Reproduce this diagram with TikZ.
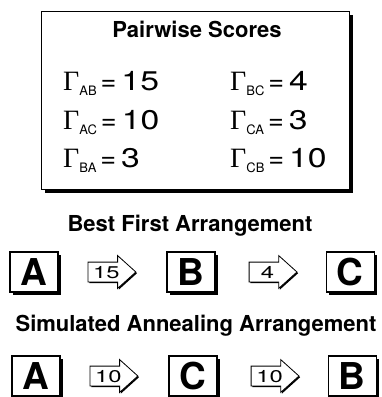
\documentclass[tikz,border=0pt]{standalone}
\usepackage{graphicx}
\usepackage{fontspec}
\setmainfont{TeX Gyre Heros}
\newfontfamily\gfont{Liberation Serif}
\usetikzlibrary{positioning, shapes.arrows, shadows}

\newcommand{\widenum}[1]{\scalebox{1.4}[1]{#1}}
\newcommand{\gscore}[2]{{\gfont\fontsize{28}{28}\selectfont Γ}\raisebox{-5pt}{\fontsize{13}{13}\selectfont #1}\hspace{4pt}=\hspace{5pt}\scalebox{1.25}[1]{#2}}

\begin{document}
\begin{tikzpicture}[
    x=1pt, y=-1pt,
    font=\fontsize{27}{27}\selectfont,
    dropblack/.style={drop shadow={shadow xshift=#1, shadow yshift=-#1, fill=black, opacity=1}},
    panel/.style={draw, line width=1pt, fill=white, minimum width=308pt,
                  minimum height=178pt, dropblack=4pt},
    heading/.style={anchor=base, inner sep=0pt, font=\fontsize{22}{22}\selectfont\bfseries},
    score/.style={anchor=base west, inner sep=0pt},
    letterbox/.style={draw, line width=1.3pt, fill=white, minimum width=48pt,
                      minimum height=40pt, inner sep=0pt, text height=27pt, text depth=0pt,
                      font=\fontsize{37}{37}\selectfont\bfseries, dropblack=3pt},
    scorearrow/.style={single arrow, draw, line width=0.8pt, fill=white,
                       single arrow head extend=6.5pt, single arrow tip angle=84,
                       text width=30pt, align=center, inner xsep=3pt, inner ysep=3.5pt,
                       text height=12pt, text depth=0pt,
                       font=\fontsize{17}{17}\selectfont, dropblack=1.2pt},
]
\useasboundingbox (0,0) rectangle (381,397);

% ── pairwise scores panel ────────────────────────────────────────────────────
\node[panel] (scores) at (195,100) {};
\node[heading] (title) at (197,37) {Pairwise Scores};

\node[score] (gab) at (63,90)  {\gscore{AB}{15}};
\node[score] (gac) at (63,129) {\gscore{AC}{10}};
\node[score] (gba) at (63,167) {\gscore{BA}{3}};
\node[score] (gbc) at (230,90)  {\gscore{BC}{4}};
\node[score] (gca) at (230,129) {\gscore{CA}{3}};
\node[score] (gcb) at (230,167) {\gscore{CB}{10}};

% ── best first arrangement ───────────────────────────────────────────────────
\node[heading] (best) at (190,231) {Best First Arrangement};

\node[letterbox] (a1) at (34,272) {A};
\node[scorearrow, right=29pt of a1] (ab) {\widenum{15}};
\node[letterbox, right=30pt of ab] (b1) {B};
\node[scorearrow, right=33pt of b1] (bc) {\widenum{4}};
\node[letterbox, right=28pt of bc] (c1) {C};

% ── simulated annealing arrangement ──────────────────────────────────────────
\node[heading] (sim) at (196,331) {Simulated Annealing Arrangement};

\node[letterbox] (a2) at (36,376) {A};
\node[scorearrow, right=29pt of a2] (ac) {\widenum{10}};
\node[letterbox, right=30pt of ac] (c2) {C};
\node[scorearrow, right=33pt of c2] (cb) {\widenum{10}};
\node[letterbox, right=28pt of cb] (b2) {B};

\end{tikzpicture}
\end{document}
